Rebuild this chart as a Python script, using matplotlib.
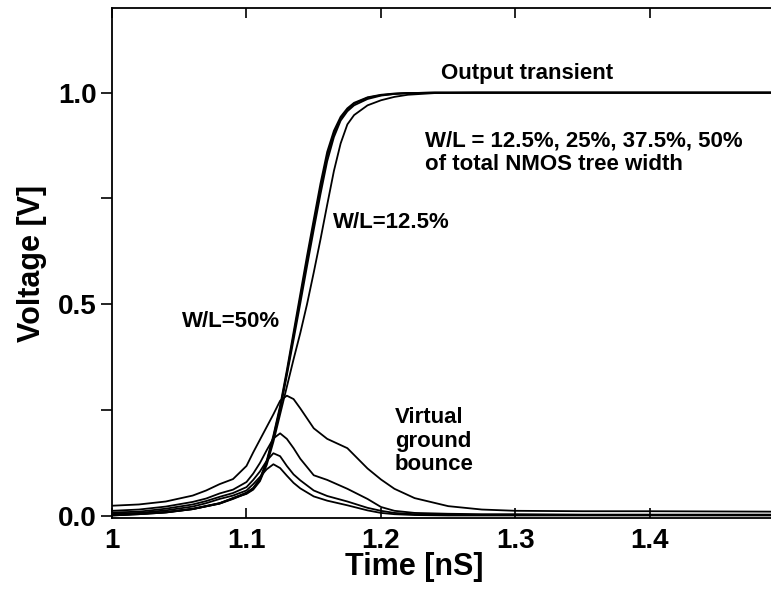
import matplotlib
matplotlib.use("Agg")
import matplotlib.pyplot as plt
from matplotlib.ticker import FixedLocator, FixedFormatter

# output transient curves (shared time grid, nS)
t_out = [1.0, 1.02, 1.04, 1.06, 1.08, 1.09, 1.10, 1.105, 1.11, 1.115, 1.12, 1.125,
         1.13, 1.135, 1.14, 1.145, 1.15, 1.155, 1.16, 1.165, 1.17, 1.175, 1.18,
         1.19, 1.20, 1.21, 1.22, 1.24, 1.27, 1.30, 1.49]
out_50 = [0.002, 0.005, 0.009, 0.017, 0.030, 0.042, 0.055, 0.066, 0.088, 0.130, 0.190,
          0.260, 0.344, 0.434, 0.524, 0.614, 0.700, 0.785, 0.860, 0.910, 0.943, 0.963,
          0.976, 0.989, 0.995, 0.998, 0.999, 1.0, 1.0, 1.0, 1.0]
out_375 = [0.002, 0.005, 0.009, 0.016, 0.029, 0.041, 0.054, 0.065, 0.086, 0.127, 0.186,
           0.255, 0.338, 0.426, 0.514, 0.603, 0.690, 0.774, 0.850, 0.903, 0.939, 0.960,
           0.974, 0.988, 0.994, 0.997, 0.999, 1.0, 1.0, 1.0, 1.0]
out_25 = [0.001, 0.004, 0.008, 0.016, 0.029, 0.040, 0.053, 0.064, 0.085, 0.125, 0.182,
          0.250, 0.332, 0.416, 0.502, 0.590, 0.676, 0.760, 0.838, 0.895, 0.934, 0.956,
          0.970, 0.985, 0.993, 0.997, 0.999, 1.0, 1.0, 1.0, 1.0]
out_125 = [0.001, 0.004, 0.008, 0.016, 0.030, 0.042, 0.052, 0.062, 0.082, 0.120, 0.175,
           0.240, 0.305, 0.370, 0.432, 0.500, 0.575, 0.653, 0.735, 0.815, 0.880, 0.925,
           0.947, 0.970, 0.982, 0.990, 0.995, 0.999, 1.0, 1.0, 1.0]

# virtual ground bounce curves
t_gnd = [1.0, 1.02, 1.04, 1.06, 1.07, 1.08, 1.09, 1.10, 1.105, 1.11, 1.115, 1.12,
         1.125, 1.13, 1.135, 1.14, 1.15, 1.16, 1.175, 1.19, 1.20, 1.21, 1.225, 1.25,
         1.275, 1.30, 1.35, 1.40, 1.49]
gnd_125 = [0.024, 0.027, 0.034, 0.048, 0.060, 0.075, 0.087, 0.118, 0.150, 0.180, 0.210,
           0.240, 0.272, 0.284, 0.276, 0.254, 0.207, 0.182, 0.160, 0.112, 0.086, 0.064,
           0.042, 0.023, 0.015, 0.012, 0.011, 0.011, 0.010]
gnd_25 = [0.012, 0.015, 0.022, 0.033, 0.041, 0.053, 0.062, 0.080, 0.100, 0.125, 0.155,
          0.183, 0.195, 0.182, 0.160, 0.135, 0.096, 0.085, 0.064, 0.040, 0.021, 0.012,
          0.007, 0.005, 0.004, 0.004, 0.003, 0.003, 0.003]
gnd_375 = [0.008, 0.010, 0.017, 0.027, 0.035, 0.045, 0.054, 0.068, 0.085, 0.105, 0.130,
           0.148, 0.141, 0.118, 0.098, 0.084, 0.060, 0.047, 0.034, 0.019, 0.012, 0.007,
           0.004, 0.003, 0.002, 0.002, 0.002, 0.002, 0.002]
gnd_50 = [0.005, 0.007, 0.013, 0.022, 0.030, 0.040, 0.048, 0.060, 0.075, 0.092, 0.110,
          0.122, 0.113, 0.095, 0.078, 0.065, 0.046, 0.036, 0.025, 0.013, 0.007, 0.004,
          0.002, 0.001, 0.001, 0.001, 0.001, 0.001, 0.001]

x_ticks = [1.0, 1.1, 1.2, 1.3, 1.4]
x_labels = ["1", "1.1", "1.2", "1.3", "1.4"]
y_ticks = [0.0, 0.5, 1.0]
y_labels = ["0.0", "0.5", "1.0"]

plt.rcParams["font.family"] = ["Liberation Sans", "DejaVu Sans"]
plt.rcParams["font.weight"] = "bold"

fig = plt.figure(figsize=(7.71, 5.90), dpi=100)
ax = fig.add_axes([112 / 771, 72 / 590, (771 - 112) / 771, 510 / 590])

for v in (out_50, out_375, out_25, out_125):
    ax.plot(t_out, v, color="black", lw=1.3)
for v in (gnd_125, gnd_25, gnd_375, gnd_50):
    ax.plot(t_gnd, v, color="black", lw=1.3)

ax.set_xlim(1.0, 1.49)
ax.set_ylim(-0.005, 1.2)
ax.spines["right"].set_visible(False)
for s in ("left", "top", "bottom"):
    ax.spines[s].set_linewidth(1.3)

ax.xaxis.set_major_locator(FixedLocator(x_ticks))
ax.xaxis.set_major_formatter(FixedFormatter(x_labels))
ax.yaxis.set_major_locator(FixedLocator(y_ticks))
ax.yaxis.set_major_formatter(FixedFormatter(y_labels))
ax.yaxis.set_minor_locator(FixedLocator([0.25, 0.75]))
ax.tick_params(axis="x", which="both", direction="in", top=True, length=7,
               width=1.2, labelsize=20, pad=7)
ax.tick_params(axis="y", which="both", direction="out", length=8,
               width=1.2, labelsize=20, pad=3)

ax.set_xlabel("Time [nS]", fontsize=22, fontweight="bold")
ax.xaxis.set_label_coords(0.458, -0.066)
ax.set_ylabel("Voltage [V]", fontsize=22, fontweight="bold", labelpad=8)

ax.text(1.3086, 1.045, "Output transient", fontsize=16, fontweight="bold",
        ha="center", va="center")
ax.text(1.2327, 0.857, "W/L = 12.5%, 25%, 37.5%, 50%\nof total NMOS tree width",
        fontsize=16, fontweight="bold", ha="left", va="center", linespacing=1.15)
ax.text(1.1643, 0.6925, "W/L=12.5%", fontsize=16, fontweight="bold",
        ha="left", va="center")
ax.text(1.052, 0.46, "W/L=50%", fontsize=16, fontweight="bold",
        ha="left", va="center")
ax.text(1.2104, 0.176, "Virtual\nground\nbounce", fontsize=16, fontweight="bold",
        ha="left", va="center", linespacing=1.15)

fig.savefig("out.png", dpi=100)
